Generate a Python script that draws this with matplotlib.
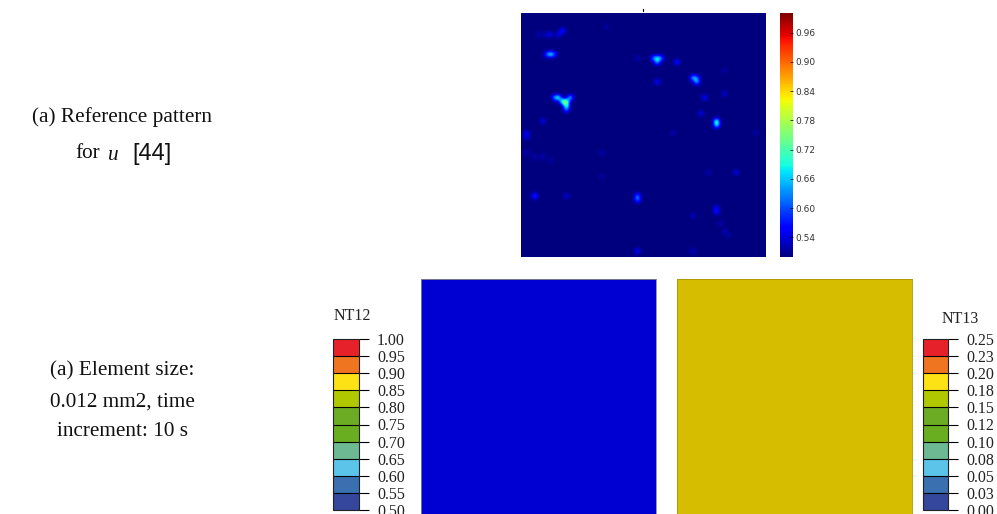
#!/usr/bin/env python

import matplotlib
matplotlib.use("Agg")
import matplotlib.pyplot as plt
from matplotlib.colors import BoundaryNorm, ListedColormap
import numpy as np

W = 997
H = 514
SERIF = "Liberation Serif"

# bright spots of the pattern (corner of the square is at 33, 38)
spot_x = [122, 110, 134, 445, 437, 453, 445, 508, 452, 563, 551, 570, 570, 585, 645, 580,
          628, 628, 170, 158, 146, 134, 182, 170, 170, 100, 75, 75, 168, 383, 383, 683, 605,
          628, 628, 557, 392, 552, 45, 45, 155, 143, 120, 105, 90, 385, 290, 275, 278, 500,
          650, 100, 75, 50, 122, 655, 643, 667, 750]
spot_y = [162, 162, 162, 178, 178, 178, 186, 184, 245, 240, 240, 232, 248, 293, 278, 340,
          372, 382, 305, 305, 298, 290, 295, 318, 330, 373, 592, 600, 600, 600, 608, 525, 527,
          640, 628, 660, 760, 762, 400, 410, 97, 100, 108, 106, 98, 178, 75, 462, 540, 400,
          213, 480, 472, 460, 488, 700, 680, 720, 400]
spot_val = [0.76, 0.64, 0.62, 0.75, 0.66, 0.66, 0.70, 0.62, 0.60, 0.82, 0.72, 0.66, 0.72,
            0.60, 0.56, 0.58, 0.82, 0.76, 0.84, 0.82, 0.78, 0.70, 0.74, 0.80, 0.68, 0.58,
            0.68, 0.66, 0.57, 0.68, 0.66, 0.58, 0.54, 0.60, 0.58, 0.55, 0.60, 0.55, 0.58,
            0.57, 0.62, 0.58, 0.57, 0.55, 0.54, 0.54, 0.53, 0.54, 0.53, 0.54, 0.53, 0.54,
            0.54, 0.54, 0.53, 0.54, 0.54, 0.53, 0.53]
heat_ticks = [0.54, 0.60, 0.66, 0.72, 0.78, 0.84, 0.90, 0.96]

levels_nt12 = [0.50, 0.55, 0.60, 0.65, 0.70, 0.75, 0.80, 0.85, 0.90, 0.95, 1.00]
labels_nt13 = ["0.00", "0.03", "0.05", "0.08", "0.10", "0.12", "0.15", "0.18", "0.20", "0.23", "0.25"]
band_colors = ["#34479c", "#3a6fb0", "#5cc4e8", "#6cb993", "#68ae20",
               "#6bac24", "#b0c800", "#fde216", "#ef7521", "#e6212a"]


def px_axes(fig, x0, y0, x1, y1):
  # pixel box with y measured from the top of the picture
  return fig.add_axes([x0 / W, 1 - y1 / H, (x1 - x0) / W, (y1 - y0) / H])


def px_text(fig, x, y, s, **kw):
  kw.setdefault("family", SERIF)
  kw.setdefault("va", "center")
  kw.setdefault("ha", "center")
  fig.text(x / W, 1 - y / H, s, **kw)


def draw_pattern(fig):
  cell = 12
  n = 733 // cell + 1
  grid = np.full((n, n), 0.50)
  for x, y, v in zip(spot_x, spot_y, spot_val):
    grid[(y - 38) // cell, (x - 33) // cell] = v
  ax = px_axes(fig, 521, 13, 766, 257)
  im = ax.imshow(grid, cmap="jet", vmin=0.5, vmax=1.0, aspect="auto", interpolation="bicubic")
  ax.set_xticks([])
  ax.set_yticks([])
  for s in ax.spines.values():
    s.set_visible(False)
  cax = px_axes(fig, 780, 13, 793, 257)
  cb = fig.colorbar(im, cax=cax, ticks=heat_ticks)
  cb.ax.tick_params(direction="in", length=2, width=0.5, pad=2, labelsize=6.5, labelcolor="#333333")
  cb.ax.set_yticklabels(["%.2f" % t for t in heat_ticks])
  cb.outline.set_visible(False)
  # small stray mark above the square
  fig.add_artist(plt.Line2D([642.7 / W, 642.7 / W], [1 - 9 / H, 1 - 11 / H], color="black", lw=0.8))


def draw_legend(fig, x0, x1, title, title_x, title_y, labels):
  cmap = ListedColormap(band_colors)
  norm = BoundaryNorm(levels_nt12, cmap.N)
  cax = px_axes(fig, x0, 339, x1, 510)
  sm = plt.cm.ScalarMappable(norm=norm, cmap=cmap)
  cb = fig.colorbar(sm, cax=cax, ticks=levels_nt12, drawedges=True, spacing="uniform")
  cb.dividers.set_color("black")
  cb.dividers.set_linewidth(0.8)
  cb.outline.set_edgecolor("#222222")
  cb.outline.set_linewidth(0.8)
  cb.ax.minorticks_off()
  cb.ax.tick_params(length=7, width=0.8, pad=6, labelsize=11.5, labelcolor="#222222")
  cb.ax.set_yticklabels(labels, family=SERIF)
  px_text(fig, title_x, title_y, title, fontsize=11.5, color="#222222")


def draw_squares(fig):
  for x0, x1, c in [(421, 656, "#0000d2"), (677, 912, "#d6bd00")]:
    ax = px_axes(fig, x0, 279, x1, 514)
    ax.set_facecolor(c)
    ax.set_xticks([])
    ax.set_yticks([])
    for s in ax.spines.values():
      s.set_linewidth(0.6)
      s.set_color("#8a8a8a" if c == "#0000d2" else "#a89400")


def draw_captions(fig):
  px_text(fig, 122, 117, "(a) Reference pattern", fontsize=15.3, color="#111111")
  px_text(fig, 88, 154, "for", fontsize=15.3, color="#111111")
  px_text(fig, 113, 155, "u", fontsize=15.3, style="italic", color="#111111")
  px_text(fig, 152, 154, "[44]", fontsize=17, family="Liberation Sans", color="#111111")
  px_text(fig, 122, 371, "(a) Element size:", fontsize=15.3, color="#111111")
  px_text(fig, 122, 402, "0.012 mm2, time", fontsize=15.3, color="#111111")
  px_text(fig, 122, 431, "increment: 10 s", fontsize=15.3, color="#111111")


def graph_data(out):
  fig = plt.figure(figsize=(W / 100.0, H / 100.0), dpi=100)
  draw_pattern(fig)
  draw_squares(fig)
  draw_legend(fig, 333, 359, "NT12", 352, 316, ["%.2f" % l for l in levels_nt12])
  draw_legend(fig, 923, 948, "NT13", 960, 319, labels_nt13)
  draw_captions(fig)
  fig.savefig(out, dpi=100)


if __name__ == "__main__":
  graph_data("out.png")
